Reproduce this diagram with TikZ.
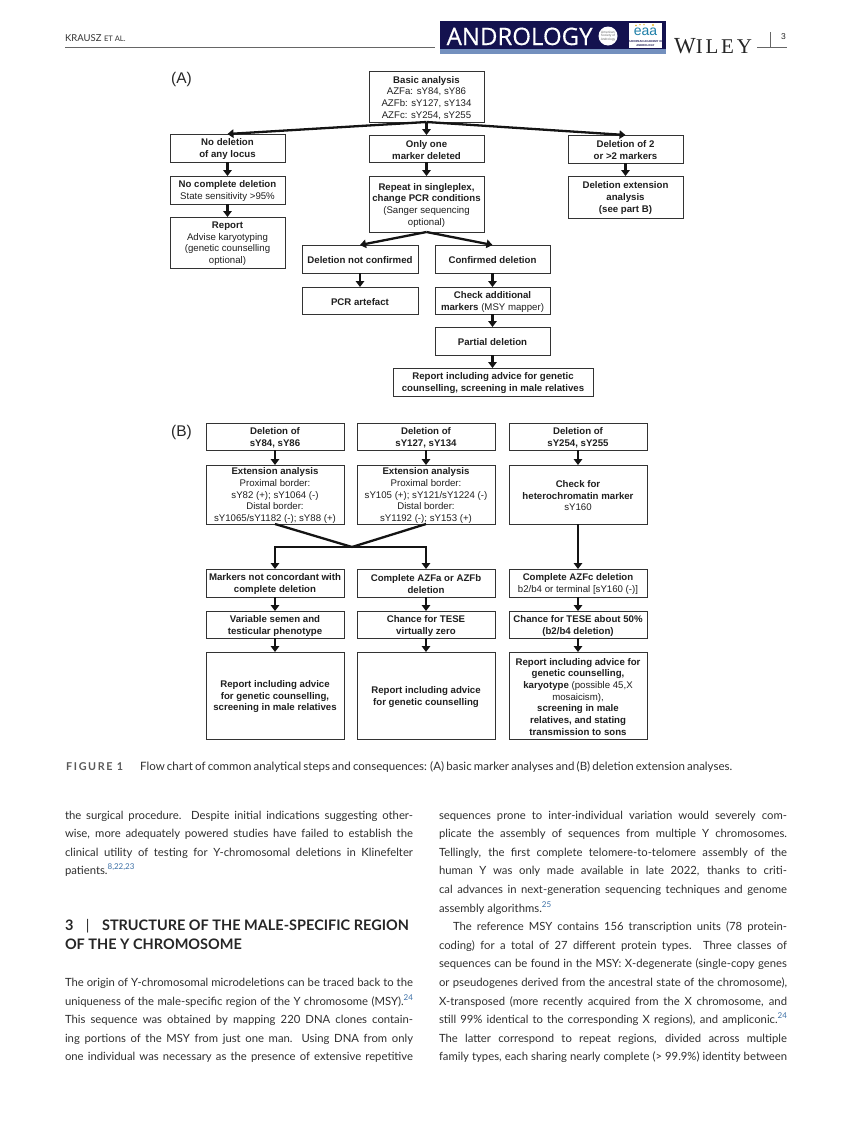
\documentclass[tikz,border=0pt]{standalone}
\usepackage{fontspec}
\usepackage{graphicx}
\setmainfont{Liberation Sans}
\newfontfamily\bodyf{Lato}
\newfontfamily\bannerf{Open Sans}
\newfontfamily\wileyf{Liberation Serif}
\usetikzlibrary{arrows.meta}
\definecolor{navy}{HTML}{14124F}
\definecolor{strip}{HTML}{7390BE}
\definecolor{refblue}{HTML}{3A6EA5}
\definecolor{bodyc}{HTML}{2E2E2E}
\definecolor{boxline}{HTML}{333333}
\definecolor{eaablue}{HTML}{1E7FA8}
\definecolor{eaagold}{HTML}{E6B422}
\newcommand{\refn}[1]{\raisebox{4.2pt}{\fontsize{8}{8}\selectfont\color{refblue}#1}}
\newcommand{\flowbox}[6]{%
  \pgfmathsetmacro{\bw}{#4-#2}\pgfmathsetmacro{\bh}{#5-#3}%
  \pgfmathsetmacro{\bx}{(#2+#4)/2}\pgfmathsetmacro{\by}{(#3+#5)/2}%
  \node[bx,minimum width=\bw pt,minimum height=\bh pt,label={[bxtext,name=#1t]center:{#6}}] (#1) at (\bx,\by) {};}
\newcommand{\jline}[4][t]{\node[bodytext] (#1) at (#2,#3) {\hbox to 348pt{#4}};}
\newcommand{\fline}[4][t]{\node[bodytext] (#1) at (#2,#3) {#4};}
\tikzset{
  bx/.style={draw=boxline,line width=0.9pt,rectangle,inner sep=0pt,outer sep=0pt},
  bxtext/.style={inner sep=0pt,outer sep=0pt,align=center,yshift=-1.2pt,
    font=\fontsize{9.65}{11.7}\selectfont,text=black!88},
  arrowline/.style={line width=2.3pt,black!92,-{Triangle[length=6pt,width=8.5pt]}},
  plainline/.style={line width=2.3pt,black!92},
  bodytext/.style={anchor=base west,inner sep=0pt,outer sep=0pt,text=bodyc,
    font=\bodyf\fontsize{11.3}{13}\selectfont},
  headtext/.style={anchor=base west,inner sep=0pt,outer sep=0pt,text=black!85,
    font=\bodyf\bfseries\fontsize{14.5}{16}\selectfont},
  partlabel/.style={anchor=center,inner sep=0pt,font=\fontsize{15.5}{16}\selectfont,text=black!85},
}
\begin{document}
\begin{tikzpicture}[x=1pt,y=-1pt]
\useasboundingbox (0,0) rectangle (853,1122);
% header
\node[anchor=base west,inner sep=0pt,text=black!80,font=\bodyf\fontsize{9.5}{10}\selectfont] (hauth) at (65,41) {KRAUSZ {\fontsize{7.6}{10}\selectfont ET AL.}};
\coordinate (hl1) at (65,47.2); \coordinate (hl2) at (435,47.2);
\draw[black!60,line width=0.7pt] (hl1) -- (hl2);
\fill[navy] (440,21) rectangle (666,49);
\fill[strip] (440,49) rectangle (666,54);
\node[anchor=base west,inner sep=0pt,text=white,font=\bannerf\fontsize{24}{26}\selectfont] (hband) at (446.5,45) {\addfontfeature{FakeBold=0.5}ANDROLOGY};
\fill[white] (608,36) circle (9.5);
\node[inner sep=0pt,align=center,text=black!60,font=\fontsize{3.2}{3.8}\selectfont] (hasa) at (608,36) {American\\Society of\\Andrology};
\fill[white] (629,23) rectangle (662,48);
\node[inner sep=0pt,text=eaablue,font=\fontsize{14}{14}\selectfont] (heaa) at (645.5,32) {eaa};
\fill[eaagold] (636,25.5) circle (0.8) (640,24.6) circle (0.8) (644,24.6) circle (0.8) (653,25) circle (1.2);
\node[inner sep=0pt,align=center,text=navy,font=\bfseries\fontsize{2.8}{3.4}\selectfont] (heaa2) at (645.5,43.5) {EUROPEAN ACADEMY OF\\ANDROLOGY};
\node[anchor=base west,inner sep=0pt,text=black!85,font=\wileyf] (hw) at (674,53) {\fontsize{23}{24}\selectfont W\fontsize{21}{24}\selectfont\addfontfeature{LetterSpace=13}ILEY};
\coordinate (hr1) at (757,47); \coordinate (hr2) at (787,47); \coordinate (ht) at (770.5,32);
\draw[black!60,line width=0.7pt] (hr1) -- (hr2);
\draw[black!60,line width=0.7pt] (ht) -- (ht |- hr1);
\node[anchor=center,inner sep=0pt,text=black!85,font=\fontsize{8.5}{9}\selectfont] (hpg) at (783.5,36.5) {3};

% part A
\node[partlabel] (labA) at (181.5,79) {(A)};
\flowbox{basic}{369}{71}{484}{122}{{\bfseries Basic analysis}\\AZFa: sY84, sY86\\AZFb: sY127, sY134\\AZFc: sY254, sY255}
\flowbox{nodel}{170}{134}{285}{162}{\bfseries No deletion\\\bfseries of any locus}
\flowbox{only}{369}{135}{484}{162}{\bfseries Only one\\\bfseries marker deleted}
\flowbox{two}{568}{135}{683}{163}{\bfseries Deletion of 2\\\bfseries or >2 markers}
\flowbox{nocomp}{170}{176}{285}{204}{{\bfseries No complete deletion}\\State sensitivity >95\%}
\flowbox{repeat}{369}{176}{484}{232}{{\bfseries Repeat in singleplex,}\\{\bfseries change PCR conditions}\\(Sanger sequencing\\optional)}
\flowbox{ext}{568}{176}{683}{218}{\bfseries Deletion extension\\\bfseries analysis\\\bfseries (see part B)}
\flowbox{report}{170}{217}{285}{268}{{\bfseries Report}\\Advise karyotyping\\(genetic counselling\\optional)}
\flowbox{notconf}{302}{245}{418}{273}{\bfseries Deletion not confirmed}
\flowbox{conf}{435}{245}{550}{273}{\bfseries Confirmed deletion}
\flowbox{pcr}{302}{287}{418}{314}{\bfseries PCR artefact}
\flowbox{check}{435}{287}{550}{314}{{\bfseries Check additional}\\{\bfseries markers} (MSY mapper)}
\flowbox{partial}{435}{327}{550}{355}{\bfseries Partial deletion}
\flowbox{rep2}{393}{368}{593}{396}{\bfseries Report including advice for genetic\\\bfseries counselling, screening in male relatives}
\draw[arrowline] (basic.south) -- (nodel.north);
\draw[arrowline] (basic.south) -- (only.north);
\draw[arrowline] (basic.south) -- (two.north);
\draw[arrowline] (nodel.south) -- (nocomp.north);
\draw[arrowline] (nocomp.south) -- (report.north);
\draw[arrowline] (only.south) -- (repeat.north);
\draw[arrowline] (two.south) -- (ext.north);
\draw[arrowline] (repeat.south) -- (notconf.north);
\draw[arrowline] (repeat.south) -- (conf.north);
\draw[arrowline] (notconf.south) -- (pcr.north);
\draw[arrowline] (conf.south) -- (check.north);
\draw[arrowline] (check.south) -- (partial.north);
\draw[arrowline] (partial.south) -- (rep2.north -| partial.south);

% part B
\node[partlabel] (labB) at (181.5,432) {(B)};
\flowbox{da}{206}{423}{344}{450}{\bfseries Deletion of\\\bfseries sY84, sY86}
\flowbox{db}{357}{423}{495}{450}{\bfseries Deletion of\\\bfseries sY127, sY134}
\flowbox{dc}{509}{423}{647}{450}{\bfseries Deletion of\\\bfseries sY254, sY255}
\flowbox{ea}{206}{465}{344}{524}{{\bfseries Extension analysis}\\Proximal border:\\sY82 (+); sY1064 (-)\\Distal border:\\sY1065/sY1182 (-); sY88 (+)}
\flowbox{eb}{357}{465}{495}{524}{{\bfseries Extension analysis}\\Proximal border:\\sY105 (+); sY121/sY1224 (-)\\Distal border:\\sY1192 (-); sY153 (+)}
\flowbox{ec}{509}{465}{647}{524}{{\bfseries Check for}\\{\bfseries heterochromatin marker}\\sY160}
\flowbox{ma}{206}{569}{344}{597}{\bfseries Markers not concordant with\\\bfseries complete deletion}
\flowbox{mb}{357}{569}{495}{597}{\bfseries Complete AZFa or AZFb\\\bfseries deletion}
\flowbox{mc}{509}{569}{647}{597}{{\bfseries Complete AZFc deletion}\\b2/b4 or terminal [sY160 (-)]}
\flowbox{va}{206}{611}{344}{638}{\bfseries Variable semen and\\\bfseries testicular phenotype}
\flowbox{vb}{357}{611}{495}{638}{\bfseries Chance for TESE\\\bfseries virtually zero}
\flowbox{vc}{509}{611}{647}{638}{\bfseries Chance for TESE about 50\%\\\bfseries (b2/b4 deletion)}
\flowbox{ra}{206}{652}{344}{739}{\bfseries Report including advice\\\bfseries for genetic counselling,\\\bfseries screening in male relatives}
\flowbox{rb}{357}{652}{495}{739}{\bfseries Report including advice\\\bfseries for genetic counselling}
\flowbox{rc}{509}{652}{647}{739}{{\bfseries Report including advice for}\\{\bfseries genetic counselling,}\\{\bfseries karyotype} (possible 45,X\\mosaicism),\\{\bfseries screening in male}\\{\bfseries relatives, and stating}\\{\bfseries transmission to sons}}
\draw[arrowline] (da.south) -- (ea.north);
\draw[arrowline] (db.south) -- (eb.north);
\draw[arrowline] (dc.south) -- (ec.north);
\coordinate (merge) at (352,547);
\draw[plainline] (ea.south) -- (merge);
\draw[plainline] (eb.south) -- (merge);
\draw[arrowline] (merge) -| (ma.north);
\draw[arrowline] (merge) -| (mb.north);
\draw[arrowline] (ec.south) -- (mc.north);
\draw[arrowline] (ma.south) -- (va.north);
\draw[arrowline] (mb.south) -- (vb.north);
\draw[arrowline] (mc.south) -- (vc.north);
\draw[arrowline] (va.south) -- (ra.north);
\draw[arrowline] (vb.south) -- (rb.north);
\draw[arrowline] (vc.south) -- (rc.north);

% caption
\node[anchor=base west,inner sep=0pt,text=black!65,font=\bodyf\bfseries\fontsize{10.8}{12}\selectfont] (figl) at (66,770) {\addfontfeature{LetterSpace=15}FIGURE 1};
\node[anchor=base west,inner sep=0pt,text=bodyc,font=\bodyf\fontsize{11.5}{12}\selectfont] (cap) at (140,770) {\spaceskip=2.2pt\relax Flow chart of common analytical steps and consequences: (A) basic marker analyses and (B) deletion extension analyses.};

% left column
\jline{65}{819}{the surgical procedure. Despite initial indications suggesting other-}
\jline{65}{837}{wise, more adequately powered studies have failed to establish the}
\jline{65}{856}{clinical utility of testing for Y-chromosomal deletions in Klinefelter}
\fline{65}{874}{patients.\refn{8,22,23}}
\node[headtext] (h1) at (65,930) {3\hspace{12.5pt}{\mdseries|}\hspace{12.5pt}STRUCTURE OF THE MALE-SPECIFIC REGION};
\node[headtext] (h2) at (65,949) {OF THE Y CHROMOSOME};
\jline{65}{986}{The origin of Y-chromosomal microdeletions can be traced back to the}
\jline{65}{1005}{uniqueness of the male-specific region of the Y chromosome (MSY).\refn{24}}
\jline{65}{1023}{This sequence was obtained by mapping 220 DNA clones contain-}
\jline{65}{1042}{ing portions of the MSY from just one man. Using DNA from only}
\jline{65}{1060}{one individual was necessary as the presence of extensive repetitive}
% right column
\jline{439}{819}{sequences prone to inter-individual variation would severely com-}
\jline{439}{837}{plicate the assembly of sequences from multiple Y chromosomes.}
\jline{439}{856}{Tellingly, the first complete telomere-to-telomere assembly of the}
\jline{439}{874}{human Y was only made available in late 2022, thanks to criti-}
\jline{439}{893}{cal advances in next-generation sequencing techniques and genome}
\fline{439}{912}{assembly algorithms.\refn{25}}
\jline{439}{930}{\hspace{14pt}The reference MSY contains 156 transcription units (78 protein-}
\jline{439}{949}{coding) for a total of 27 different protein types. Three classes of}
\jline{439}{967}{sequences can be found in the MSY: X-degenerate (single-copy genes}
\jline{439}{986}{or pseudogenes derived from the ancestral state of the chromosome),}
\jline{439}{1005}{X-transposed (more recently acquired from the X chromosome, and}
\jline{439}{1023}{still 99\% identical to the corresponding X regions), and ampliconic.\refn{24}}
\jline{439}{1042}{The latter correspond to repeat regions, divided across multiple}
\jline{439}{1060}{family types, each sharing nearly complete (> 99.9\%) identity between}
\end{tikzpicture}
\end{document}
